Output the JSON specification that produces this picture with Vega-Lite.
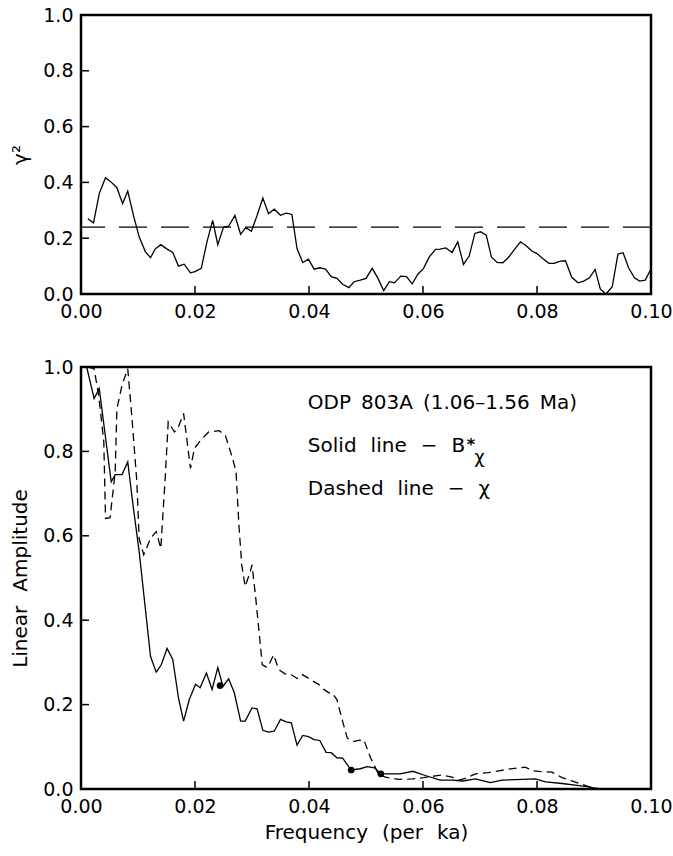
{
  "$schema": "https://vega.github.io/schema/vega-lite/v6.json",
  "padding": {"left": 9, "top": 4, "right": 5, "bottom": 5},
  "background": "white",
  "spacing": 33,
  "config": {
    "font": "DejaVu Sans",
    "view": {"stroke": "black", "strokeWidth": 2.5},
    "axis": {
      "domain": false, "ticks": false, "grid": false,
      "labelFont": "DejaVu Sans", "labelFontSize": 19, "labelColor": "black",
      "labelPadding": 8, "labelFlush": false, "labelOverlap": false, "labelBound": false,
      "titleFont": "DejaVu Sans", "titleFontSize": 20, "titleFontWeight": "normal", "titleColor": "black"
    }
  },
  "vconcat": [
    {
      "width": 570, "height": 279,
      "layer": [
        {
          "data": {"values": [
            {"f":0.0012,"g":0.270},{"f":0.0022,"g":0.255},{"f":0.0032,"g":0.360},{"f":0.0043,"g":0.417},
            {"f":0.0053,"g":0.401},{"f":0.0063,"g":0.381},{"f":0.0073,"g":0.324},{"f":0.0082,"g":0.369},
            {"f":0.0092,"g":0.282},{"f":0.0102,"g":0.205},{"f":0.0113,"g":0.151},{"f":0.0122,"g":0.130},
            {"f":0.0130,"g":0.161},{"f":0.0140,"g":0.177},{"f":0.0151,"g":0.161},{"f":0.0161,"g":0.149},
            {"f":0.0171,"g":0.100},{"f":0.0181,"g":0.107},{"f":0.0192,"g":0.076},{"f":0.0200,"g":0.080},
            {"f":0.0211,"g":0.092},{"f":0.0221,"g":0.187},{"f":0.0231,"g":0.264},{"f":0.0240,"g":0.177},
            {"f":0.0250,"g":0.240},{"f":0.0259,"g":0.243},{"f":0.0270,"g":0.282},{"f":0.0280,"g":0.214},
            {"f":0.0289,"g":0.238},{"f":0.0299,"g":0.225},{"f":0.0309,"g":0.282},{"f":0.0319,"g":0.344},
            {"f":0.0329,"g":0.288},{"f":0.0339,"g":0.304},{"f":0.0350,"g":0.282},{"f":0.0360,"g":0.290},
            {"f":0.0370,"g":0.285},{"f":0.0379,"g":0.163},{"f":0.0389,"g":0.113},{"f":0.0399,"g":0.125},
            {"f":0.0409,"g":0.089},{"f":0.0419,"g":0.094},{"f":0.0429,"g":0.089},{"f":0.0439,"g":0.062},
            {"f":0.0449,"g":0.056},{"f":0.0459,"g":0.035},{"f":0.0470,"g":0.023},{"f":0.0479,"g":0.044},
            {"f":0.0490,"g":0.050},{"f":0.0500,"g":0.056},{"f":0.0511,"g":0.092},{"f":0.0521,"g":0.056},
            {"f":0.0531,"g":0.012},{"f":0.0541,"g":0.044},{"f":0.0550,"g":0.040},{"f":0.0561,"g":0.064},
            {"f":0.0571,"g":0.062},{"f":0.0581,"g":0.036},{"f":0.0591,"g":0.071},{"f":0.0601,"g":0.092},
            {"f":0.0611,"g":0.133},{"f":0.0622,"g":0.160},{"f":0.0630,"g":0.161},{"f":0.0640,"g":0.165},
            {"f":0.0651,"g":0.149},{"f":0.0661,"g":0.187},{"f":0.0671,"g":0.106},{"f":0.0681,"g":0.136},
            {"f":0.0691,"g":0.217},{"f":0.0701,"g":0.223},{"f":0.0711,"g":0.211},{"f":0.0720,"g":0.133},
            {"f":0.0730,"g":0.113},{"f":0.0740,"g":0.112},{"f":0.0750,"g":0.131},{"f":0.0761,"g":0.161},
            {"f":0.0771,"g":0.187},{"f":0.0781,"g":0.173},{"f":0.0791,"g":0.154},{"f":0.0800,"g":0.145},
            {"f":0.0810,"g":0.127},{"f":0.0821,"g":0.110},{"f":0.0830,"g":0.110},{"f":0.0841,"g":0.118},
            {"f":0.0850,"g":0.119},{"f":0.0861,"g":0.060},{"f":0.0872,"g":0.040},{"f":0.0882,"g":0.046},
            {"f":0.0892,"g":0.058},{"f":0.0902,"g":0.088},{"f":0.0911,"g":0.018},{"f":0.0921,"g":0.000},
            {"f":0.0932,"g":0.026},{"f":0.0942,"g":0.143},{"f":0.0951,"g":0.148},{"f":0.0961,"g":0.092},
            {"f":0.0971,"g":0.058},{"f":0.0980,"g":0.046},{"f":0.0990,"g":0.050},{"f":0.0999,"g":0.086}
          ]},
          "mark": {"type": "line", "color": "black", "strokeWidth": 1.3, "clip": true},
          "encoding": {
            "x": {"field": "f", "type": "quantitative", "scale": {"domain": [0, 0.1]},
                  "axis": {"values": [0, 0.02, 0.04, 0.06, 0.08, 0.1], "format": ".2f", "title": null}},
            "y": {"field": "g", "type": "quantitative", "scale": {"domain": [0, 1]},
                  "axis": {"values": [0, 0.2, 0.4, 0.6, 0.8, 1.0], "format": ".1f", "title": "γ²", "titlePadding": 12}}
          }
        },
        {
          "data": {"values": [{"ref": 0.24}]},
          "mark": {"type": "rule", "color": "black", "strokeWidth": 1.2, "strokeDash": [28, 14]},
          "encoding": {"y": {"field": "ref", "type": "quantitative"}}
        },
        {
          "data": {"values": [{"t": 0.02}, {"t": 0.04}, {"t": 0.06}, {"t": 0.08}]},
          "mark": {"type": "rule", "color": "black", "strokeWidth": 1.5},
          "encoding": {"x": {"field": "t", "type": "quantitative"}, "y": {"datum": 0}, "y2": {"datum": 0.029}}
        },
        {
          "data": {"values": [{"t": 0.2}, {"t": 0.4}, {"t": 0.6}, {"t": 0.8}]},
          "mark": {"type": "rule", "color": "black", "strokeWidth": 1.5},
          "encoding": {"y": {"field": "t", "type": "quantitative"}, "x": {"datum": 0}, "x2": {"datum": 0.0014}}
        }
      ]
    },
    {
      "width": 570, "height": 422,
      "layer": [
        {
          "data": {"values": [
            {"f":0.0010,"a":1.0},{"f":0.0023,"a":0.925},{"f":0.0032,"a":0.949},{"f":0.0053,"a":0.728},
            {"f":0.0060,"a":0.745},{"f":0.0072,"a":0.745},{"f":0.0082,"a":0.775},{"f":0.0092,"a":0.665},
            {"f":0.0102,"a":0.563},{"f":0.0122,"a":0.314},{"f":0.0132,"a":0.277},{"f":0.0141,"a":0.295},
            {"f":0.0151,"a":0.333},{"f":0.0161,"a":0.307},{"f":0.0171,"a":0.216},{"f":0.0180,"a":0.161},
            {"f":0.0190,"a":0.212},{"f":0.0201,"a":0.248},{"f":0.0209,"a":0.240},{"f":0.0220,"a":0.275},
            {"f":0.0230,"a":0.236},{"f":0.0240,"a":0.288},{"f":0.0249,"a":0.243},{"f":0.0259,"a":0.261},
            {"f":0.0269,"a":0.228},{"f":0.0280,"a":0.161},{"f":0.0288,"a":0.161},{"f":0.0300,"a":0.192},
            {"f":0.0309,"a":0.190},{"f":0.0319,"a":0.139},{"f":0.0329,"a":0.135},{"f":0.0339,"a":0.137},
            {"f":0.0350,"a":0.165},{"f":0.0360,"a":0.159},{"f":0.0369,"a":0.157},{"f":0.0379,"a":0.104},
            {"f":0.0389,"a":0.127},{"f":0.0399,"a":0.124},{"f":0.0409,"a":0.117},{"f":0.0419,"a":0.115},
            {"f":0.0430,"a":0.087},{"f":0.0439,"a":0.086},{"f":0.0449,"a":0.074},{"f":0.0459,"a":0.073},
            {"f":0.0474,"a":0.045},{"f":0.0490,"a":0.048},{"f":0.0502,"a":0.053},{"f":0.0515,"a":0.050},
            {"f":0.0526,"a":0.036},{"f":0.0540,"a":0.036},{"f":0.0560,"a":0.036},{"f":0.0582,"a":0.042},
            {"f":0.0604,"a":0.032},{"f":0.0630,"a":0.021},{"f":0.0651,"a":0.021},{"f":0.0670,"a":0.019},
            {"f":0.0692,"a":0.024},{"f":0.0718,"a":0.015},{"f":0.0739,"a":0.021},{"f":0.0762,"a":0.022},
            {"f":0.0797,"a":0.024},{"f":0.0815,"a":0.017},{"f":0.0844,"a":0.013},{"f":0.0867,"a":0.009},
            {"f":0.0891,"a":0.005},{"f":0.0908,"a":0.000},{"f":0.0990,"a":0.000}
          ]},
          "mark": {"type": "line", "color": "black", "strokeWidth": 1.3, "clip": true},
          "encoding": {
            "x": {"field": "f", "type": "quantitative", "scale": {"domain": [0, 0.1]},
                  "axis": {"values": [0, 0.02, 0.04, 0.06, 0.08, 0.1], "format": ".2f", "title": "Frequency\u2002\u2009(per\u2002\u2009ka)", "titlePadding": 6}},
            "y": {"field": "a", "type": "quantitative", "scale": {"domain": [0, 1]},
                  "axis": {"values": [0, 0.2, 0.4, 0.6, 0.8, 1.0], "format": ".1f", "title": "Linear\u2002\u2009Amplitude", "titlePadding": 12}}
          }
        },
        {
          "data": {"values": [
            {"f":0.0012,"a":1.0},{"f":0.0023,"a":0.996},{"f":0.0031,"a":0.933},{"f":0.0040,"a":0.823},
            {"f":0.0043,"a":0.641},{"f":0.0051,"a":0.643},{"f":0.0060,"a":0.752},{"f":0.0063,"a":0.901},
            {"f":0.0072,"a":0.957},{"f":0.0082,"a":0.996},{"f":0.0089,"a":0.886},{"f":0.0098,"a":0.728},
            {"f":0.0102,"a":0.594},{"f":0.0110,"a":0.555},{"f":0.0122,"a":0.594},{"f":0.0132,"a":0.610},
            {"f":0.0140,"a":0.570},{"f":0.0148,"a":0.744},{"f":0.0153,"a":0.870},{"f":0.0164,"a":0.846},
            {"f":0.0171,"a":0.858},{"f":0.0180,"a":0.890},{"f":0.0192,"a":0.760},{"f":0.0199,"a":0.807},
            {"f":0.0212,"a":0.830},{"f":0.0224,"a":0.846},{"f":0.0242,"a":0.849},{"f":0.0253,"a":0.839},
            {"f":0.0266,"a":0.783},{"f":0.0272,"a":0.752},{"f":0.0277,"a":0.626},{"f":0.0282,"a":0.531},
            {"f":0.0288,"a":0.480},{"f":0.0297,"a":0.515},{"f":0.0300,"a":0.531},{"f":0.0306,"a":0.460},
            {"f":0.0318,"a":0.295},{"f":0.0326,"a":0.288},{"f":0.0330,"a":0.295},{"f":0.0338,"a":0.318},
            {"f":0.0347,"a":0.283},{"f":0.0358,"a":0.273},{"f":0.0370,"a":0.270},{"f":0.0379,"a":0.262},
            {"f":0.0388,"a":0.271},{"f":0.0396,"a":0.265},{"f":0.0405,"a":0.257},{"f":0.0417,"a":0.248},
            {"f":0.0426,"a":0.236},{"f":0.0435,"a":0.228},{"f":0.0440,"a":0.228},{"f":0.0449,"a":0.212},
            {"f":0.0458,"a":0.165},{"f":0.0467,"a":0.121},{"f":0.0477,"a":0.112},{"f":0.0487,"a":0.115},
            {"f":0.0496,"a":0.117},{"f":0.0508,"a":0.074},{"f":0.0522,"a":0.035},{"f":0.0534,"a":0.028},
            {"f":0.0557,"a":0.023},{"f":0.0581,"a":0.024},{"f":0.0601,"a":0.027},{"f":0.0622,"a":0.031},
            {"f":0.0633,"a":0.033},{"f":0.0651,"a":0.028},{"f":0.0663,"a":0.021},{"f":0.0674,"a":0.025},
            {"f":0.0692,"a":0.036},{"f":0.0715,"a":0.039},{"f":0.0733,"a":0.043},{"f":0.0750,"a":0.047},
            {"f":0.0768,"a":0.050},{"f":0.0779,"a":0.052},{"f":0.0794,"a":0.043},{"f":0.0809,"a":0.041},
            {"f":0.0826,"a":0.040},{"f":0.0844,"a":0.027},{"f":0.0861,"a":0.019},{"f":0.0879,"a":0.011},
            {"f":0.0896,"a":0.003},{"f":0.0914,"a":0.000},{"f":0.0990,"a":0.000}
          ]},
          "mark": {"type": "line", "color": "black", "strokeWidth": 1.3, "strokeDash": [8, 5], "clip": true},
          "encoding": {
            "x": {"field": "f", "type": "quantitative"},
            "y": {"field": "a", "type": "quantitative"}
          }
        },
        {
          "data": {"values": [{"t": 0.02}, {"t": 0.04}, {"t": 0.06}, {"t": 0.08}]},
          "mark": {"type": "rule", "color": "black", "strokeWidth": 1.5},
          "encoding": {"x": {"field": "t", "type": "quantitative"}, "y": {"datum": 0}, "y2": {"datum": 0.019}}
        },
        {
          "data": {"values": [{"t": 0.2}, {"t": 0.4}, {"t": 0.6}, {"t": 0.8}]},
          "mark": {"type": "rule", "color": "black", "strokeWidth": 1.5},
          "encoding": {"y": {"field": "t", "type": "quantitative"}, "x": {"datum": 0}, "x2": {"datum": 0.0014}}
        },
        {
          "data": {"values": [{"f":0.0244,"a":0.245},{"f":0.0474,"a":0.045},{"f":0.0526,"a":0.036}]},
          "mark": {"type": "point", "filled": true, "color": "black", "size": 45, "opacity": 1},
          "encoding": {
            "x": {"field": "f", "type": "quantitative"},
            "y": {"field": "a", "type": "quantitative"}
          }
        },
        {
          "data": {"values": [
            {"f":0.0398,"a":0.915,"label":"ODP\u2002803A\u2002(1.06–1.56\u2002Ma)"},
            {"f":0.0398,"a":0.813,"label":"Solid\u2002\u2009line\u2002\u2009−\u2002\u2009B"},
            {"f":0.0398,"a":0.711,"label":"Dashed\u2002\u2009line\u2002\u2009−\u2002\u2009χ"}
          ]},
          "mark": {"type": "text", "align": "left", "baseline": "middle", "font": "DejaVu Sans", "fontSize": 20, "color": "black"},
          "encoding": {
            "x": {"field": "f", "type": "quantitative"},
            "y": {"field": "a", "type": "quantitative"},
            "text": {"field": "label"}
          }
        },
        {
          "data": {"values": [{"f":0.0684,"a":0.803,"label":"*"}]},
          "mark": {"type": "text", "align": "center", "baseline": "alphabetic", "font": "DejaVu Sans", "fontSize": 16, "fontWeight": "bold", "color": "black"},
          "encoding": {
            "x": {"field": "f", "type": "quantitative"},
            "y": {"field": "a", "type": "quantitative"},
            "text": {"field": "label"}
          }
        },
        {
          "data": {"values": [{"f":0.0699,"a":0.784,"label":"χ"}]},
          "mark": {"type": "text", "align": "center", "baseline": "middle", "font": "DejaVu Sans", "fontSize": 18, "color": "black"},
          "encoding": {
            "x": {"field": "f", "type": "quantitative"},
            "y": {"field": "a", "type": "quantitative"},
            "text": {"field": "label"}
          }
        }
      ]
    }
  ]
}
